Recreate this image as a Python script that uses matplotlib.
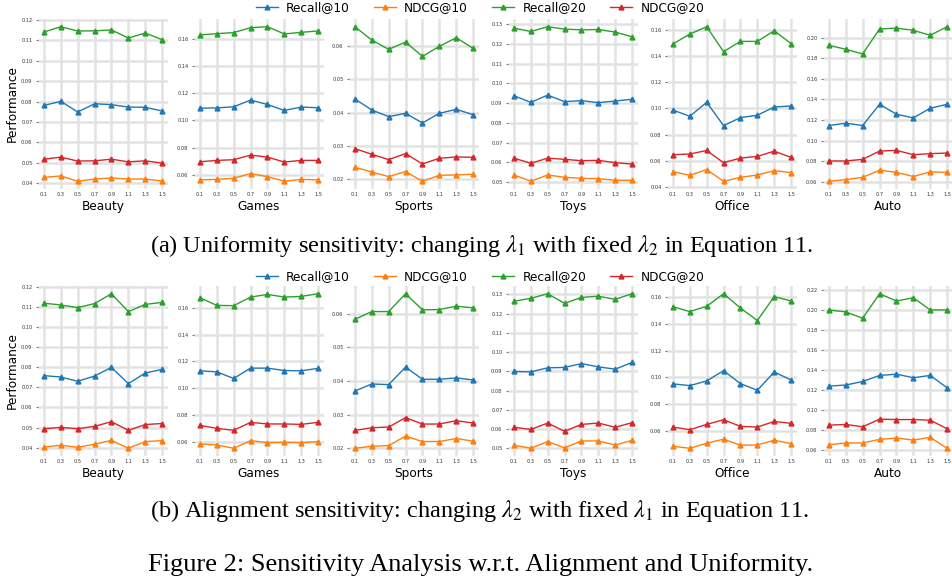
import numpy as np
import matplotlib
matplotlib.use('Agg')
import matplotlib.pyplot as plt

plt.rcParams['mathtext.fontset'] = 'stix'

# x values (lambda)
lams = [0.1, 0.3, 0.5, 0.7, 0.9, 1.1, 1.3, 1.5]
datasets = ['Beauty', 'Games', 'Sports', 'Toys', 'Office', 'Auto']
metrics = ['Recall@10', 'NDCG@10', 'Recall@20', 'NDCG@20']

# (a) uniformity sensitivity: changing lambda1
uni_recall10 = {
    'Beauty': [0.0781, 0.0801, 0.0749, 0.0789, 0.0785, 0.0773, 0.0772, 0.0754],
    'Games': [0.1090, 0.1092, 0.1100, 0.1149, 0.1117, 0.1073, 0.1098, 0.1093],
    'Sports': [0.0441, 0.0408, 0.0388, 0.0398, 0.0369, 0.0398, 0.0410, 0.0394],
    'Toys': [0.0938, 0.0904, 0.0941, 0.0908, 0.0913, 0.0903, 0.0911, 0.0920],
    'Office': [0.0987, 0.0939, 0.1046, 0.0868, 0.0929, 0.0947, 0.1010, 0.1018],
    'Auto': [0.1147, 0.1170, 0.1147, 0.1353, 0.1257, 0.1221, 0.1315, 0.1353],
}
uni_ndcg10 = {
    'Beauty': [0.0429, 0.0436, 0.0410, 0.0421, 0.0426, 0.0421, 0.0421, 0.0411],
    'Games': [0.0564, 0.0568, 0.0576, 0.0610, 0.0588, 0.0554, 0.0568, 0.0564],
    'Sports': [0.0236, 0.0222, 0.0208, 0.0223, 0.0194, 0.0212, 0.0213, 0.0215],
    'Toys': [0.0537, 0.0505, 0.0537, 0.0525, 0.0520, 0.0518, 0.0510, 0.0510],
    'Office': [0.0516, 0.0489, 0.0532, 0.0443, 0.0473, 0.0491, 0.0524, 0.0509],
    'Auto': [0.0606, 0.0622, 0.0645, 0.0713, 0.0693, 0.0652, 0.0697, 0.0693],
}
uni_recall20 = {
    'Beauty': [0.1140, 0.1166, 0.1145, 0.1146, 0.1150, 0.1111, 0.1135, 0.1103],
    'Games': [0.1627, 0.1636, 0.1644, 0.1680, 0.1687, 0.1634, 0.1646, 0.1656],
    'Sports': [0.0658, 0.0618, 0.0590, 0.0612, 0.0569, 0.0599, 0.0625, 0.0593],
    'Toys': [0.1280, 0.1263, 0.1287, 0.1275, 0.1271, 0.1273, 0.1260, 0.1236],
    'Office': [0.1491, 0.1567, 0.1623, 0.1433, 0.1511, 0.1511, 0.1592, 0.1494],
    'Auto': [0.1926, 0.1887, 0.1842, 0.2084, 0.2093, 0.2071, 0.2023, 0.2106],
}
uni_ndcg20 = {
    'Beauty': [0.0518, 0.0528, 0.0509, 0.0510, 0.0518, 0.0505, 0.0510, 0.0499],
    'Games': [0.0697, 0.0707, 0.0712, 0.0746, 0.0731, 0.0695, 0.0707, 0.0707],
    'Sports': [0.0292, 0.0275, 0.0259, 0.0277, 0.0246, 0.0263, 0.0267, 0.0266],
    'Toys': [0.0622, 0.0596, 0.0622, 0.0616, 0.0609, 0.0611, 0.0599, 0.0592],
    'Office': [0.0646, 0.0651, 0.0678, 0.0585, 0.0620, 0.0633, 0.0673, 0.0625],
    'Auto': [0.0803, 0.0803, 0.0819, 0.0899, 0.0906, 0.0864, 0.0874, 0.0880],
}

# (b) alignment sensitivity: changing lambda2
ali_recall10 = {
    'Beauty': [0.0758, 0.0751, 0.0730, 0.0756, 0.0799, 0.0718, 0.0771, 0.0789],
    'Games': [0.1130, 0.1122, 0.1073, 0.1150, 0.1150, 0.1132, 0.1130, 0.1148],
    'Sports': [0.0370, 0.0391, 0.0389, 0.0441, 0.0405, 0.0405, 0.0409, 0.0403],
    'Toys': [0.0899, 0.0897, 0.0918, 0.0920, 0.0940, 0.0923, 0.0911, 0.0946],
    'Office': [0.0951, 0.0938, 0.0973, 0.1050, 0.0953, 0.0903, 0.1040, 0.0980],
    'Auto': [0.1239, 0.1249, 0.1285, 0.1345, 0.1358, 0.1322, 0.1345, 0.1222],
}
ali_ndcg10 = {
    'Beauty': [0.0403, 0.0412, 0.0402, 0.0417, 0.0436, 0.0397, 0.0430, 0.0435],
    'Games': [0.0585, 0.0578, 0.0553, 0.0610, 0.0595, 0.0598, 0.0595, 0.0603],
    'Sports': [0.0200, 0.0206, 0.0208, 0.0236, 0.0220, 0.0220, 0.0229, 0.0221],
    'Toys': [0.0516, 0.0500, 0.0535, 0.0502, 0.0538, 0.0538, 0.0517, 0.0541],
    'Office': [0.0483, 0.0468, 0.0506, 0.0536, 0.0491, 0.0493, 0.0528, 0.0503],
    'Auto': [0.0653, 0.0670, 0.0670, 0.0706, 0.0719, 0.0699, 0.0726, 0.0617],
}
ali_recall20 = {
    'Beauty': [0.1118, 0.1109, 0.1096, 0.1116, 0.1165, 0.1076, 0.1112, 0.1122],
    'Games': [0.1674, 0.1617, 0.1615, 0.1679, 0.1699, 0.1679, 0.1684, 0.1704],
    'Sports': [0.0583, 0.0606, 0.0606, 0.0659, 0.0611, 0.0612, 0.0622, 0.0617],
    'Toys': [0.1264, 0.1279, 0.1303, 0.1253, 0.1284, 0.1290, 0.1274, 0.1303],
    'Office': [0.1530, 0.1493, 0.1533, 0.1627, 0.1520, 0.1426, 0.1605, 0.1573],
    'Auto': [0.2000, 0.1980, 0.1917, 0.2162, 0.2089, 0.2122, 0.2000, 0.2000],
}
ali_ndcg20 = {
    'Beauty': [0.0494, 0.0501, 0.0494, 0.0506, 0.0529, 0.0486, 0.0515, 0.0520],
    'Games': [0.0724, 0.0701, 0.0687, 0.0746, 0.0734, 0.0734, 0.0731, 0.0746],
    'Sports': [0.0253, 0.0261, 0.0263, 0.0291, 0.0272, 0.0272, 0.0282, 0.0275],
    'Toys': [0.0609, 0.0598, 0.0631, 0.0588, 0.0624, 0.0631, 0.0609, 0.0633],
    'Office': [0.0627, 0.0607, 0.0647, 0.0682, 0.0632, 0.0627, 0.0669, 0.0655],
    'Auto': [0.0848, 0.0855, 0.0832, 0.0908, 0.0904, 0.0904, 0.0898, 0.0812],
}

# y tick spacing per panel
ystep_a = [0.01, 0.02, 0.01, 0.01, 0.02, 0.02]
ystep_b = [0.01, 0.02, 0.01, 0.01, 0.02, 0.02]

colors = ['#1f77b4', '#ff7f0e', '#2ca02c', '#d62728']

W, H = 953, 577
fig = plt.figure(figsize=(W / 100, H / 100), dpi=100)

lefts = [38, 194, 349, 508, 667, 823]
ax_w = 130
ax_h = 170


def draw_row(top, series, steps, legend_y):
    axes = []
    for i, name in enumerate(datasets):
        ax = fig.add_axes([lefts[i] / W, 1 - (top + ax_h) / H, ax_w / W, ax_h / H])
        for vals, c, m in zip(series, colors, metrics):
            ax.plot(lams, vals[name], color=c, marker='^', markersize=3.5,
                    linewidth=1.0, label=m, zorder=3)
        lo, hi = ax.get_ylim()
        st = steps[i]
        yt = np.arange(np.ceil(lo / st - 1e-6) * st, hi + 1e-9, st)
        ax.set_yticks(yt)
        ax.set_yticklabels(['%.2f' % v for v in yt])
        ax.set_ylim(lo, hi)
        ax.set_xticks(lams)
        ax.set_xticklabels([str(x) for x in lams])
        ax.tick_params(axis='both', labelsize=3.6, colors='#333333', pad=2.5)
        ax.tick_params(axis='x', length=0)
        ax.tick_params(axis='y', length=1.5, width=0.5)
        # soft band + thin line, like the blurred grid of the original
        ax.grid(True, color='#e2e2e2', linewidth=1.8, zorder=0)
        for y in yt:
            ax.axhline(y, color='#aaaaaa', linewidth=0.7, zorder=0.5)
        for x in lams:
            ax.axvline(x, color='#aaaaaa', linewidth=0.7, zorder=0.5)
        ax.set_ylim(lo, hi)
        for s in ax.spines.values():
            s.set_visible(False)
        ax.set_xlabel(name, fontsize=8.7, labelpad=1.5)
        if i == 0:
            ax.set_ylabel('Performance', fontsize=8.7, labelpad=2)
        axes.append(ax)
    h, l = axes[0].get_legend_handles_labels()
    fig.legend(h, l, loc='center', bbox_to_anchor=(480 / W, 1 - legend_y / H),
               ncol=4, frameon=False, fontsize=8.7, handlelength=1.8,
               handletextpad=0.7, columnspacing=2.0, borderaxespad=0)
    return axes


draw_row(19, [uni_recall10, uni_ndcg10, uni_recall20, uni_ndcg20], ystep_a, 8)
draw_row(286, [ali_recall10, ali_ndcg10, ali_recall20, ali_ndcg20], ystep_b, 277)

cap_font = dict(family='Liberation Serif', fontsize=17.5, ha='center', va='baseline')
fig.text(482 / W, 1 - 252 / H,
         r'(a) Uniformity sensitivity: changing $\lambda_1$ with fixed $\lambda_2$ in Equation 11.',
         **cap_font)
fig.text(480 / W, 1 - 517 / H,
         r'(b) Alignment sensitivity: changing $\lambda_2$ with fixed $\lambda_1$ in Equation 11.',
         **cap_font)
fig.text(481 / W, 1 - 571 / H,
         'Figure 2: Sensitivity Analysis w.r.t. Alignment and Uniformity.',
         family='Liberation Serif', fontsize=19, ha='center', va='baseline')

fig.savefig('out.png', dpi=100)
